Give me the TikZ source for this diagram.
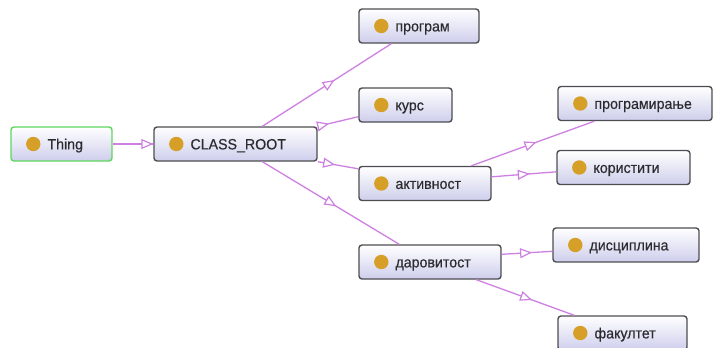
\documentclass[tikz,border=0pt]{standalone}
\usepackage{fontspec}
\setmainfont{Liberation Sans}[FakeStretch=0.95,FakeBold=0.4]
\usetikzlibrary{arrows.meta,decorations.markings}

\definecolor{boxline}{RGB}{78,78,82}
\definecolor{boxfill}{RGB}{206,206,236}
\definecolor{thingline}{RGB}{96,214,96}
\definecolor{dotcol}{RGB}{214,160,40}
\definecolor{isacol}{RGB}{206,128,226}
\definecolor{textcol}{RGB}{44,44,48}

% one class box: optional style, name, centre x, centre y, width, label
\newcommand\owlclass[6][]{%
  \node[classbox,minimum width=#5bp,#1] (#2) at (#3,#4) {};
  \fill[dotcol] ([xshift=23bp]#2.west) circle (7.2bp);
  \node[classlabel] (#2-t) at ([xshift=37bp,yshift=-5.4bp]#2.west) {#6};
}

\begin{document}
\begin{tikzpicture}[x=1bp,y=-1bp,
  classbox/.style={rectangle,rounded corners=3bp,draw=boxline,line width=1.4bp,
    top color=white,bottom color=boxfill,minimum height=34bp,inner sep=0pt},
  classlabel/.style={anchor=base west,inner sep=0pt,text=textcol,
    font=\fontsize{15}{18}\selectfont},
  isa/.style={draw=isacol,line width=1.3bp,postaction={decorate},
    decoration={markings,mark=at position #1 with
      {\arrow{Triangle[length=12bp,width=10bp,fill=white,line width=1.2bp]}}}},
]
\useasboundingbox (0,0) rectangle (713,347);

% class boxes
\owlclass[draw=thingline]{thing}{61.5}{144}{101}{Thing}
\owlclass{root}{235.5}{144}{163}{CLASS\_ROOT}
\owlclass{prog}{419}{26}{120}{програм}
\owlclass{kurs}{405.5}{105}{93}{курс}
\owlclass{akt}{425}{183.5}{132}{активност}
\owlclass{dar}{430}{262}{142}{даровитост}
\owlclass{prm}{635}{103.5}{154}{програмирање}
\owlclass{kor}{623.5}{167.5}{133}{користити}
\owlclass{dis}{626}{245}{146}{дисциплина}
\owlclass{fak}{622.5}{333}{129}{факултет}

% subclass links
\draw[isa=1] (thing.east) -- (root.west);
\draw[isa=0.56] ([xshift=109bp]root.north west) -- ([xshift=33bp]prog.south west);
\draw[isa=0.28] (root.north east) -- ([yshift=6bp]kurs.south west);
\draw[isa=0.43] (root.south east) -- ([yshift=-3bp]akt.north west);
\draw[isa=0.54] ([xshift=109bp]root.south west) -- ([xshift=41bp]dar.north west);
\draw[isa=0.53] ([xshift=113bp]akt.north west) -- ([xshift=37bp]prm.south west);
\draw[isa=0.59] ([yshift=-11bp]akt.north east) -- ([yshift=-22bp]kor.north west);
\draw[isa=0.6] ([yshift=-10bp]dar.north east) -- ([yshift=-24bp]dis.north west);
\draw[isa=0.57] ([xshift=118bp]dar.south west) -- ([xshift=17bp]fak.north west);
\end{tikzpicture}
\end{document}
